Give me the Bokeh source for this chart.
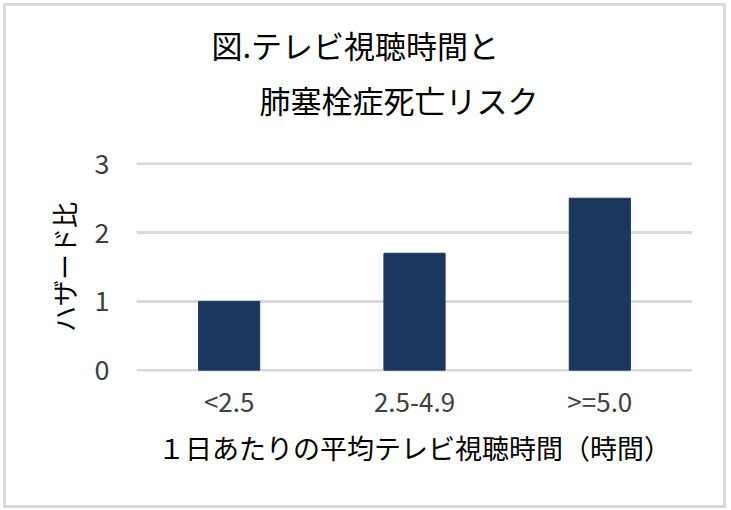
from bokeh.plotting import figure
from bokeh.layouts import column
from bokeh.models import Range1d, FactorRange, Title, ColumnDataSource
from bokeh.embed import file_html
from bokeh.resources import INLINE

categories = ["<2.5", "2.5-4.9", ">=5.0"]
hazard_ratio = [1.0, 1.7, 2.5]
y_ticks = [0, 1, 2, 3]
title_line1 = "図.テレビ視聴時間と"
title_line2 = "肺塞栓症死亡リスク"
x_label = "１日あたりの平均テレビ視聴時間（時間）"
y_label = "ハザード比"

FONT = "Noto Sans CJK JP"
W, H = 717, 499

src = ColumnDataSource(dict(cat=categories, val=hazard_ratio))

p = figure(width=W, height=H, output_backend="svg", toolbar_location=None,
           x_range=FactorRange(*categories, range_padding=0),
           y_range=Range1d(-0.02, 3.02),
           min_border_left=130, min_border_right=31,
           min_border_top=156, min_border_bottom=134)

p.vbar(x="cat", top="val", width=0.33, source=src,
       fill_color="#1b375d", line_color="#1b375d")

p.outline_line_color = None
p.xgrid.grid_line_color = None
p.ygrid.grid_line_color = "#d9d9d9"
p.ygrid.grid_line_width = 3
p.yaxis.ticker = y_ticks

for ax in (p.xaxis[0], p.yaxis[0]):
    ax.axis_line_color = None
    ax.major_tick_line_color = None
    ax.minor_tick_line_color = None
    ax.major_label_text_font = FONT
    ax.major_label_text_color = "#404040"
    ax.axis_label_text_font = FONT
    ax.axis_label_text_font_style = "normal"
    ax.axis_label_text_color = "#000000"

p.yaxis.major_label_text_font_size = "27px"
p.xaxis.major_label_text_font_size = "26px"
p.yaxis.axis_label_text_font_size = "26px"
p.xaxis.axis_label_text_font_size = "27px"

p.yaxis.major_label_standoff = 21
p.yaxis.axis_label = y_label
p.yaxis.axis_label_standoff = 10
p.xaxis.major_label_standoff = 4
p.xaxis.axis_label = x_label
p.xaxis.axis_label_standoff = 6

t2 = Title(text=title_line2, align="left", offset=123, text_font=FONT,
           text_font_size="31px", text_font_style="normal", text_color="#000000",
           standoff=82)
t1 = Title(text=title_line1, align="left", offset=75, text_font=FONT,
           text_font_size="31px", text_font_style="normal", text_color="#000000",
           standoff=-66)
p.add_layout(t2, "above")
p.add_layout(t1, "above")

layout = column(p, styles={"border": "3px solid #d9d9d9",
                           "margin-left": "3px", "margin-top": "3px"})

open("out.html", "w").write(file_html(layout, INLINE))
